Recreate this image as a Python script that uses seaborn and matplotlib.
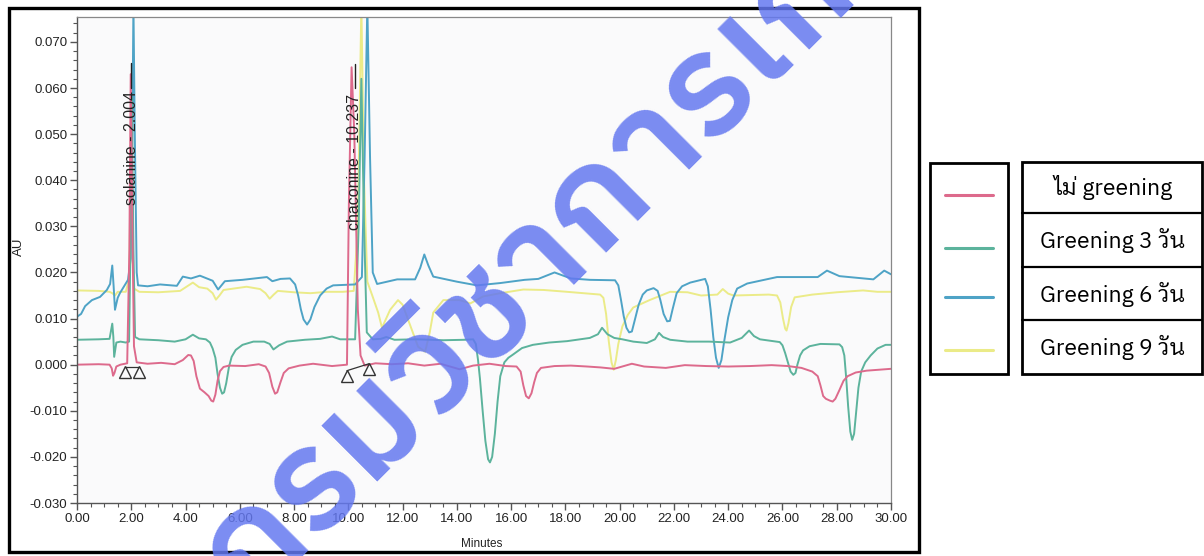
import numpy as np
import pandas as pd
import matplotlib
matplotlib.use("Agg")
import matplotlib.pyplot as plt
from matplotlib import font_manager
from matplotlib.ft2font import FT2Font
from matplotlib.patches import Rectangle
from matplotlib.lines import Line2D
from matplotlib.ticker import MultipleLocator, FormatStrFormatter
import seaborn as sns

# ---------------------------------------------------------------- data
series_names = ["ไม่ greening", "Greening 3 วัน", "Greening 6 วัน", "Greening 9 วัน"]
series_colors = ["#dd6a8c", "#5cb39c", "#4ea3c6", "#ebeb88"]

# untreated (no greening)
t_none = [0.0, 0.8, 1.2, 1.28, 1.33, 1.38, 1.45, 1.6, 1.85, 1.93, 1.98, 2.04,
          2.1, 2.2, 2.6, 3.1, 3.6, 3.9, 4.1, 4.2, 4.3, 4.4, 4.53, 4.7, 4.85,
          4.95, 5.02, 5.1, 5.18, 5.27, 5.4, 5.6, 6.2, 6.7, 6.95, 7.08, 7.2, 7.3,
          7.38, 7.5, 7.62, 7.8, 8.2, 8.7, 9.4, 9.95, 10.02, 10.12, 10.22, 10.35,
          10.45, 10.6, 11.0, 11.6, 12.2, 12.8, 13.4, 14.1, 14.6, 15.2, 15.8,
          16.2, 16.35, 16.45, 16.55, 16.65, 16.75, 16.85, 16.95, 17.1, 17.6,
          18.2, 18.8, 19.3, 19.8, 20.45, 20.9, 21.7, 22.4, 23.2, 24.0, 24.8,
          25.6, 26.2, 26.7, 27.1, 27.3, 27.4, 27.5, 27.6, 27.75, 27.85, 27.95,
          28.1, 28.25, 28.4, 28.7, 29.1, 30.0]
au_none = [0.0000, 0.0001, 0.0000, -0.0008, -0.0024, -0.0018, -0.0004, 0.0000,
           0.0003, 0.0250, 0.0630, 0.0300, 0.0040, 0.0005, 0.0002, 0.0004,
           0.0001, 0.0010, 0.0021, 0.0020, 0.0008, -0.0025, -0.0052, -0.0060,
           -0.0068, -0.0078, -0.0080, -0.0065, -0.0035, -0.0014, -0.0005,
           -0.0002, -0.0003, 0.0001, -0.0004, -0.0018, -0.0048, -0.0063,
           -0.0060, -0.0038, -0.0018, -0.0008, -0.0002, 0.0002, -0.0003,
           0.0000, 0.0350, 0.0645, 0.0500, 0.0120, 0.0020, -0.0002, 0.0003,
           0.0001, 0.0003, -0.0002, 0.0002, -0.0010, -0.0002, 0.0002, -0.0003,
           -0.0004, -0.0015, -0.0045, -0.0068, -0.0073, -0.0062, -0.0038,
           -0.0018, -0.0007, -0.0003, -0.0002, -0.0004, -0.0006, -0.0009,
           0.0002, -0.0004, -0.0007, -0.0001, -0.0003, -0.0004, -0.0003,
           -0.0001, -0.0003, -0.0007, -0.0015, -0.0025, -0.0045, -0.0068,
           -0.0074, -0.0078, -0.0080, -0.0074, -0.0055, -0.0035, -0.0025,
           -0.0017, -0.0013, -0.0009]

# greening 3 days
t_g3 = [0.0, 0.8, 1.2, 1.3, 1.34, 1.37, 1.45, 1.6, 1.8, 1.92, 1.98, 2.02, 2.08,
        2.14, 2.3, 3.0, 3.6, 4.0, 4.27, 4.5, 4.75, 4.9, 5.0, 5.1, 5.18, 5.27,
        5.35, 5.42, 5.5, 5.6, 5.7, 5.85, 6.1, 6.5, 6.9, 7.1, 7.24, 7.45, 7.74,
        8.4, 8.96, 9.4, 9.7, 10.25, 10.38, 10.48, 10.58, 10.68, 10.9, 11.2,
        11.4, 11.7, 12.5, 13.5, 14.3, 14.6, 14.7, 14.78, 14.85, 14.95, 15.05,
        15.15, 15.22, 15.3, 15.4, 15.5, 15.6, 15.75, 15.9, 16.07, 16.4, 16.8,
        17.4, 18.06, 18.9, 19.2, 19.35, 19.55, 19.8, 20.1, 20.5, 21.0, 21.3,
        21.45, 21.6, 21.86, 22.5, 23.3, 24.07, 24.5, 24.77, 24.95, 25.17, 25.9,
        26.0, 26.1, 26.2, 26.3, 26.4, 26.48, 26.55, 26.65, 26.76, 27.0, 27.4,
        28.1, 28.2, 28.28, 28.35, 28.42, 28.5, 28.57, 28.64, 28.72, 28.8, 28.9,
        29.05, 29.25, 29.5, 29.8, 30.0]
au_g3 = [0.0054, 0.0055, 0.0056, 0.0089, 0.0060, 0.0017, 0.0048, 0.0050, 0.0048,
         0.0050, 0.0300, 0.0580, 0.0250, 0.0060, 0.0055, 0.0053, 0.0050, 0.0055,
         0.0065, 0.0057, 0.0055, 0.0048, 0.0035, 0.0015, -0.0020, -0.0050,
         -0.0063, -0.0060, -0.0040, -0.0005, 0.0017, 0.0032, 0.0043, 0.0050,
         0.0050, 0.0045, 0.0033, 0.0042, 0.0050, 0.0054, 0.0056, 0.0061, 0.0055,
         0.0055, 0.0300, 0.0620, 0.0300, 0.0070, 0.0055, 0.0056, 0.0060, 0.0054,
         0.0055, 0.0053, 0.0054, 0.0055, 0.0045, 0.0010, -0.0030, -0.0100,
         -0.0165, -0.0205, -0.0212, -0.0200, -0.0150, -0.0080, -0.0025, 0.0005,
         0.0015, 0.0022, 0.0036, 0.0043, 0.0048, 0.0051, 0.0058, 0.0066, 0.0080,
         0.0066, 0.0058, 0.0055, 0.0050, 0.0047, 0.0055, 0.0069, 0.0060, 0.0054,
         0.0050, 0.0050, 0.0048, 0.0058, 0.0074, 0.0062, 0.0055, 0.0049, 0.0042,
         0.0025, 0.0005, -0.0015, -0.0022, -0.0018, 0.0000, 0.0020, 0.0031,
         0.0040, 0.0045, 0.0044, 0.0038, 0.0020, -0.0030, -0.0090, -0.0145,
         -0.0163, -0.0150, -0.0100, -0.0050, -0.0015, 0.0005, 0.0020, 0.0035,
         0.0043, 0.0043]

# greening 6 days
t_g6 = [0.0, 0.15, 0.3, 0.55, 0.85, 1.1, 1.22, 1.3, 1.35, 1.4, 1.5, 1.58, 1.88,
        1.98, 2.04, 2.08, 2.13, 2.2, 2.25, 2.6, 3.06, 3.68, 3.9, 4.2, 4.53, 5.0,
        5.2, 5.45, 6.1, 7.0, 7.2, 7.5, 7.85, 8.04, 8.15, 8.25, 8.35, 8.48, 8.6,
        8.75, 8.96, 9.2, 9.44, 10.25, 10.5, 10.6, 10.7, 10.8, 10.9, 11.06, 11.8,
        12.46, 12.65, 12.8, 12.95, 13.13, 14.0, 14.74, 15.6, 16.5, 17.0, 17.6,
        18.2, 18.9, 19.83, 19.95, 20.05, 20.15, 20.25, 20.35, 20.45, 20.55,
        20.7, 20.85, 21.0, 21.25, 21.4, 21.5, 21.62, 21.75, 21.85, 21.95, 22.1,
        22.3, 22.6, 23.15, 23.25, 23.35, 23.45, 23.55, 23.65, 23.75, 23.85,
        24.0, 24.15, 24.33, 24.7, 25.8, 27.3, 27.64, 28.1, 29.35, 29.75, 30.0]
au_g6 = [0.0104, 0.0110, 0.0127, 0.0140, 0.0147, 0.0162, 0.0175, 0.0215, 0.0170,
         0.0119, 0.0145, 0.0155, 0.0184, 0.0230, 0.0500, 0.0780, 0.0500, 0.0200,
         0.0172, 0.0170, 0.0174, 0.0171, 0.0191, 0.0187, 0.0193, 0.0182, 0.0163,
         0.0181, 0.0184, 0.0190, 0.0181, 0.0186, 0.0187, 0.0174, 0.0150, 0.0120,
         0.0098, 0.0087, 0.0098, 0.0125, 0.0150, 0.0165, 0.0172, 0.0174, 0.0190,
         0.0450, 0.0780, 0.0450, 0.0200, 0.0175, 0.0185, 0.0185, 0.0210, 0.0239,
         0.0215, 0.0191, 0.0180, 0.0172, 0.0177, 0.0184, 0.0186, 0.0200, 0.0187,
         0.0184, 0.0183, 0.0172, 0.0140, 0.0105, 0.0080, 0.0070, 0.0072, 0.0095,
         0.0130, 0.0152, 0.0161, 0.0166, 0.0160, 0.0140, 0.0110, 0.0094, 0.0095,
         0.0120, 0.0155, 0.0170, 0.0178, 0.0186, 0.0170, 0.0120, 0.0060, 0.0015,
         -0.0007, 0.0010, 0.0050, 0.0103, 0.0140, 0.0165, 0.0176, 0.0190, 0.0190,
         0.0204, 0.0192, 0.0185, 0.0204, 0.0196]

# greening 9 days
t_g9 = [0.0, 0.8, 1.2, 1.3, 1.4, 1.5, 1.8, 1.93, 1.98, 2.03, 2.1, 2.3, 3.0, 3.8,
        4.27, 4.5, 4.8, 5.0, 5.12, 5.25, 5.4, 6.25, 6.75, 6.95, 7.1, 7.25, 7.4,
        8.0, 8.6, 9.2, 9.8, 10.2, 10.35, 10.48, 10.58, 10.7, 10.87, 11.1, 11.24,
        11.54, 11.83, 12.0, 12.2, 12.57, 12.83, 13.0, 13.13, 13.5, 14.1, 14.5,
        14.97, 15.6, 16.45, 17.2, 18.06, 19.28, 19.4, 19.5, 19.6, 19.7, 19.78,
        19.86, 19.95, 20.1, 20.3, 20.5, 21.1, 21.86, 22.5, 23.0, 23.6, 23.8,
        24.0, 24.2, 25.5, 25.8, 25.92, 26.02, 26.1, 26.15, 26.22, 26.32, 26.45,
        27.1, 28.0, 28.97, 29.5, 30.0]
au_g9 = [0.0161, 0.0160, 0.0158, 0.0155, 0.0150, 0.0158, 0.0158, 0.0190, 0.0450,
         0.0250, 0.0165, 0.0158, 0.0157, 0.0160, 0.0178, 0.0168, 0.0165, 0.0155,
         0.0141, 0.0150, 0.0162, 0.0169, 0.0164, 0.0155, 0.0143, 0.0152, 0.0160,
         0.0157, 0.0155, 0.0158, 0.0158, 0.0160, 0.0300, 0.0780, 0.0400, 0.0180,
         0.0152, 0.0113, 0.0080, 0.0119, 0.0140, 0.0130, 0.0098, 0.0039, 0.0028,
         0.0070, 0.0113, 0.0140, 0.0140, 0.0133, 0.0148, 0.0155, 0.0163, 0.0162,
         0.0158, 0.0152, 0.0145, 0.0110, 0.0050, 0.0005, -0.0011, 0.0010, 0.0045,
         0.0083, 0.0108, 0.0124, 0.0140, 0.0158, 0.0157, 0.0150, 0.0152, 0.0164,
         0.0154, 0.0150, 0.0152, 0.0150, 0.0135, 0.0100, 0.0078, 0.0074, 0.0090,
         0.0125, 0.0146, 0.0152, 0.0157, 0.0161, 0.0158, 0.0158]

# integrated peaks
peak_names = ["solanine", "chaconine"]
peak_times = [2.004, 10.237]
label_base = [0.0347, 0.0293]     # where the vertical label starts
label_tick_top = [0.0655, 0.0651]

# integration marks (start / end of each peak)
mark_t = [[1.77, 2.29], [9.95, 10.76]]
mark_au = [[-0.0004, -0.0004], [-0.0013, 0.0002]]

x_ticks = np.arange(0, 30.01, 2)
y_ticks = np.arange(-0.030, 0.0701, 0.010)

stamp_text = "กรมวิชาการเกษตร"

# ---------------------------------------------------------------- fonts
def thai_families(sample):
    found = []
    seen = set()
    for f in font_manager.fontManager.ttflist:
        if f.fname in seen or f.name in found:
            continue
        seen.add(f.fname)
        try:
            cmap = FT2Font(f.fname).get_charmap()
        except Exception:
            continue
        if all(ord(c) in cmap for c in sample if not c.isspace()):
            found.append(f.name)
    return found

thai_fams = thai_families("ไม่วันกรมวิชาการเกษตร")
looped = [n for n in thai_fams if "Looped" in n]
loopless = [n for n in thai_fams if "Thai" in n and "Looped" not in n]
legend_family = (looped or thai_fams or ["DejaVu Sans"])[0]
stamp_family = (loopless or thai_fams or ["DejaVu Sans"])[0]

sns.set_theme(style="white")
plt.rcParams["font.family"] = ["Liberation Sans", "DejaVu Sans"]

frames = []
for name, t, v in zip(series_names, [t_none, t_g3, t_g6, t_g9],
                      [au_none, au_g3, au_g6, au_g9]):
    frames.append(pd.DataFrame({"Minutes": t, "AU": v, "sample": name}))
data = pd.concat(frames, ignore_index=True)

W, H = 1204, 556
fig = plt.figure(figsize=(W / 100, H / 100), dpi=100)
fig.patch.set_facecolor("white")

ax = fig.add_axes([77 / W, 1 - 503 / H, (891 - 77) / W, (503 - 17) / H])
ax.set_facecolor("#fafafb")

draw_order = [series_names[3], series_names[2], series_names[1], series_names[0]]
palette = dict(zip(series_names, series_colors))
sns.lineplot(data=data, x="Minutes", y="AU", hue="sample", hue_order=draw_order,
             palette=palette, estimator=None, errorbar=None, sort=False,
             linewidth=1.4, legend=False, ax=ax)
for ln in ax.get_lines():
    ln.set_solid_joinstyle("round")
    ln.set_solid_capstyle("round")

ax.set_xlim(0, 30)
ax.set_ylim(-0.030, 0.0754)
ax.set_xticks(x_ticks)
ax.set_yticks(y_ticks)
ax.xaxis.set_minor_locator(MultipleLocator(0.5))
ax.yaxis.set_minor_locator(MultipleLocator(0.002))
ax.xaxis.set_major_formatter(FormatStrFormatter("%.2f"))
ax.yaxis.set_major_formatter(FormatStrFormatter("%.3f"))
ax.tick_params(axis="both", which="major", direction="out", length=5, width=1,
               color="#555555", labelsize=9.5, labelcolor="#222222", pad=2,
               bottom=True, left=True)
ax.tick_params(axis="both", which="minor", direction="out", length=3, width=0.8,
               color="#555555", bottom=True, left=True)
for side in ["left", "bottom"]:
    ax.spines[side].set_color("#555555")
    ax.spines[side].set_linewidth(1.0)
for side in ["top", "right"]:
    ax.spines[side].set_color("#888888")
    ax.spines[side].set_linewidth(0.9)

ax.set_xlabel("Minutes", fontsize=8.5, color="#222222")
ax.xaxis.set_label_coords(0.4975, -0.072)
ax.set_ylabel("AU", fontsize=9.5, color="#222222")
ax.yaxis.set_label_coords(-0.064, 0.527)

# peak labels
for name, rt, base, top in zip(peak_names, peak_times, label_base, label_tick_top):
    ax.text(rt, base, f"{name} - {rt:.3f}", rotation=90, ha="center",
            va="bottom", fontsize=11.5, color="#222222")
    ax.plot([rt, rt], [0.0601, top], color="#222222", linewidth=1.0)

for ts, vs in zip(mark_t, mark_au):
    ax.plot(ts, vs, color="#333333", linewidth=0.9)
    ax.plot(ts, [v - 0.0012 for v in vs], linestyle="none", marker="^",
            markersize=9, markerfacecolor="none", markeredgecolor="#333333",
            markeredgewidth=1.0)

# outer frame around the chromatogram
fig.add_artist(Rectangle((9 / W, 1 - 552 / H), 910 / W, 544 / H,
                         transform=fig.transFigure, fill=False,
                         edgecolor="black", linewidth=2.4))

# legend: line swatches in one box, names in a table beside it
fig.add_artist(Rectangle((930 / W, 1 - 374 / H), 78 / W, 211 / H,
                         transform=fig.transFigure, fill=False,
                         edgecolor="black", linewidth=2.0))
fig.add_artist(Rectangle((1022 / W, 1 - 374 / H), 180 / W, 212 / H,
                         transform=fig.transFigure, fill=False,
                         edgecolor="black", linewidth=2.0))
for yb in [213, 267, 320]:
    fig.add_artist(Line2D([1022 / W, 1202 / W], [1 - yb / H, 1 - yb / H],
                          transform=fig.transFigure, color="black", linewidth=1.6))

swatch_y = [195, 248, 297, 350]
row_y = [188, 240, 294, 347]
for name, col, sy, ry in zip(series_names, series_colors, swatch_y, row_y):
    fig.add_artist(Line2D([945 / W, 993 / W], [1 - sy / H, 1 - sy / H],
                          transform=fig.transFigure, color=col, linewidth=2.2))
    fig.text(1113 / W, 1 - ry / H, name, ha="center", va="center",
             fontsize=16.5, color="black", family=[legend_family, "DejaVu Sans"])

# diagonal stamp across the chromatogram
fig.text(250 / W, 1 - 604 / H, stamp_text, rotation=45, rotation_mode="anchor",
         ha="left", va="baseline", fontsize=103, fontweight="semibold",
         color="#6478f0", alpha=0.85,
         family=[stamp_family, "DejaVu Sans"], zorder=20)

fig.savefig("out.png", dpi=100, facecolor="white")
